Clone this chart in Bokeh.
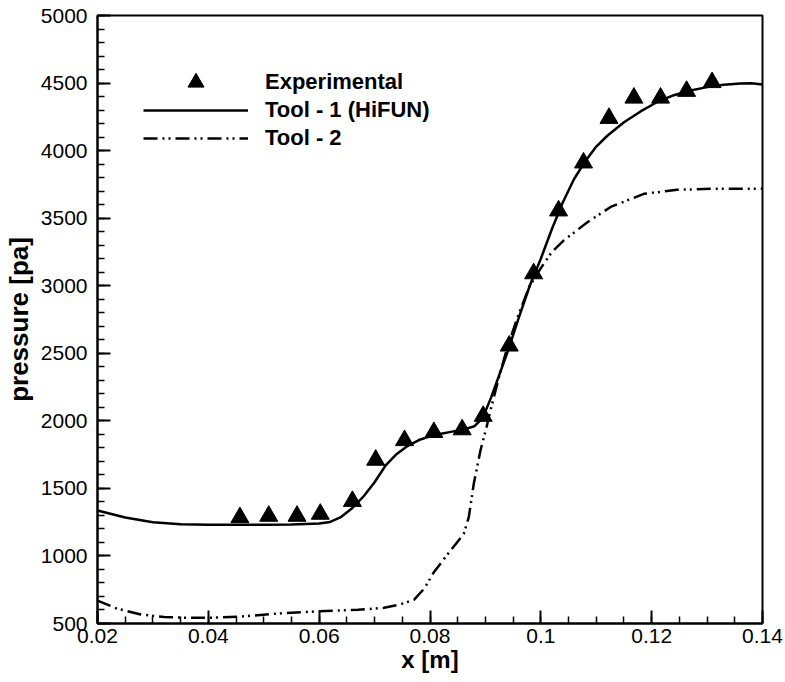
from bokeh.plotting import figure
from bokeh.models import FixedTicker, Legend, LegendItem, Range1d
from bokeh.embed import file_html
from bokeh.resources import INLINE
import numpy as np

# ---------------- data ----------------
exp_x = [0.0457, 0.0509, 0.0560, 0.0602, 0.0660, 0.0702, 0.0754, 0.0807, 0.0858, 0.0896,
         0.0943, 0.0987, 0.1032, 0.1077, 0.1123, 0.1168, 0.1216, 0.1263, 0.1309]
exp_p = [1285, 1295, 1295, 1310, 1405, 1710, 1855, 1915, 1935, 2035,
         2555, 3090, 3555, 3910, 4240, 4390, 4390, 4440, 4505]

tool1_x = [0.020, 0.025, 0.030, 0.035, 0.040, 0.045, 0.050, 0.055, 0.060, 0.062,
           0.064, 0.066, 0.068, 0.070, 0.072, 0.074, 0.076, 0.078, 0.080, 0.082,
           0.084, 0.086, 0.088, 0.0895, 0.091, 0.0925, 0.094, 0.096, 0.098, 0.100,
           0.102, 0.104, 0.106, 0.108, 0.110, 0.112, 0.115, 0.118, 0.121, 0.124,
           0.127, 0.130, 0.133, 0.136, 0.138, 0.140]
tool1_p = [1336, 1285, 1250, 1235, 1230, 1230, 1231, 1233, 1240, 1252,
           1290, 1355, 1440, 1545, 1670, 1755, 1815, 1858, 1885, 1905,
           1920, 1935, 1960, 2020, 2170, 2340, 2510, 2760, 3000, 3200,
           3420, 3620, 3790, 3920, 4030, 4110, 4210, 4290, 4360, 4410,
           4445, 4470, 4487, 4497, 4498, 4490]

tool2_x = [0.020, 0.0236, 0.0278, 0.032, 0.036, 0.040, 0.046, 0.052, 0.060, 0.067,
           0.0717, 0.0745, 0.0771, 0.0790, 0.0807, 0.0837, 0.0861, 0.0870, 0.0879, 0.0891,
           0.0902, 0.0909, 0.0925, 0.094, 0.096, 0.098, 0.100, 0.102, 0.1041, 0.1084,
           0.1126, 0.1186, 0.1246, 0.1306, 0.140]
tool2_p = [670, 609, 567, 548, 542, 542, 552, 572, 591, 601,
           616, 640, 675, 760, 880, 1040, 1164, 1287, 1534, 1780,
           1953, 2076, 2330, 2550, 2790, 3000, 3130, 3250, 3334, 3470,
           3583, 3680, 3710, 3717, 3717]

x_ticks = [0.02, 0.04, 0.06, 0.08, 0.10, 0.12, 0.14]
x_tick_labels = ["0.02", "0.04", "0.06", "0.08", "0.1", "0.12", "0.14"]
y_ticks = [500, 1000, 1500, 2000, 2500, 3000, 3500, 4000, 4500, 5000]
y_tick_labels = ["500", "1000", "1500", "2000", "2500", "3000", "3500", "4000", "4500", "5000"]

series_names = ["Experimental", "Tool - 1 (HiFUN)", "Tool - 2"]

FONT = "Liberation Sans"

p = figure(width=784, height=681, output_backend="svg", toolbar_location=None,
           x_range=Range1d(0.02, 0.14), y_range=Range1d(500, 5000),
           min_border_left=97, min_border_right=22, min_border_top=15, min_border_bottom=58)

p.background_fill_color = "white"
p.border_fill_color = "white"
p.outline_line_color = "black"
p.outline_line_width = 2
p.xgrid.visible = False
p.ygrid.visible = False

r2 = p.line(tool2_x, tool2_p, line_color="black", line_width=2.5, line_dash="14 5 2 4 2 5")
r1 = p.line(tool1_x, tool1_p, line_color="black", line_width=2.5)
r0 = p.scatter(exp_x, exp_p, marker="triangle", size=18, fill_color="black", line_color="black")

minor_x = [float(v) for v in np.round(np.arange(0.02, 0.1401, 0.005), 4)]
minor_y = [float(v) for v in np.arange(500, 5001, 100)]

p.xaxis.ticker = FixedTicker(ticks=x_ticks, minor_ticks=minor_x)
p.yaxis.ticker = FixedTicker(ticks=y_ticks, minor_ticks=minor_y)
p.xaxis.major_label_overrides = {t: l for t, l in zip(x_ticks, x_tick_labels)}
p.yaxis.major_label_overrides = {t: l for t, l in zip(y_ticks, y_tick_labels)}

for ax in (p.xaxis[0], p.yaxis[0]):
    ax.axis_line_color = "black"
    ax.axis_line_width = 2
    ax.major_tick_line_color = "black"
    ax.major_tick_line_width = 2
    ax.minor_tick_line_color = "black"
    ax.minor_tick_line_width = 1.5
    ax.major_tick_in = 13
    ax.major_tick_out = 0
    ax.minor_tick_in = 7
    ax.minor_tick_out = 0
    ax.major_label_text_font = FONT
    ax.major_label_text_font_size = "21px"
    ax.major_label_text_color = "black"
    ax.axis_label_text_font = FONT
    ax.axis_label_text_font_style = "bold"
    ax.axis_label_text_color = "black"

p.xaxis.axis_label = "x [m]"
p.xaxis.axis_label_text_font_size = "24px"
p.xaxis.major_label_standoff = 5
p.xaxis.axis_label_standoff = 0

p.yaxis.axis_label = "pressure [pa]"
p.yaxis.axis_label_text_font_size = "26px"
p.yaxis.major_label_standoff = 10
p.yaxis.axis_label_standoff = 4

common = dict(orientation="vertical", glyph_width=105, spacing=0,
              label_standoff=17, padding=0, margin=0,
              label_text_font=FONT, label_text_font_style="bold",
              label_text_font_size="22px", label_text_color="black",
              border_line_alpha=0, background_fill_alpha=0)

legend_a = Legend(items=[LegendItem(label=series_names[0], renderers=[r0])],
                  location=(46, 521), glyph_height=40, label_height=40, **common)
legend_b = Legend(items=[LegendItem(label=series_names[1], renderers=[r1]),
                         LegendItem(label=series_names[2], renderers=[r2])],
                  location=(46, 471), glyph_height=28, label_height=28, **common)
p.add_layout(legend_a)
p.add_layout(legend_b)

open("out.html", "w").write(file_html(p, INLINE))
